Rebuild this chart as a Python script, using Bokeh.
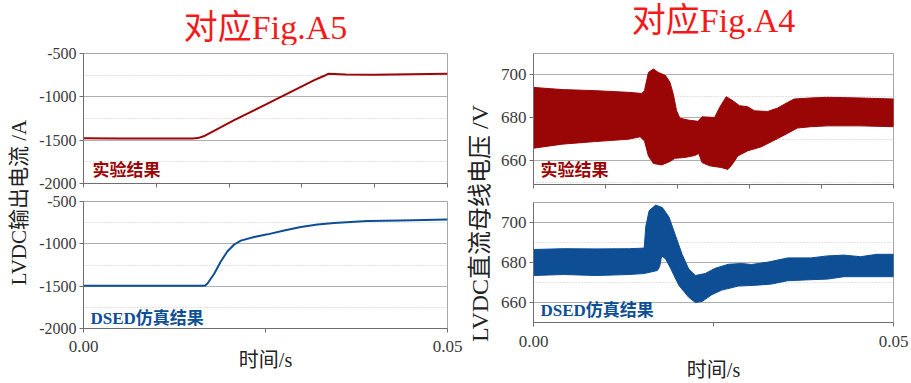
from bokeh.plotting import figure
from bokeh.models import Range1d, FixedTicker, Label
from bokeh.layouts import row, column
from bokeh.embed import file_html
from bokeh.resources import INLINE

# ---------------- data ----------------
# Left top: experimental LVDC output current (A)
t_exp_i = [0.0, 0.005, 0.010, 0.0150, 0.0157, 0.0165, 0.0207, 0.0250, 0.0276, 0.0300,
           0.0317, 0.0330, 0.0336, 0.0360, 0.0400, 0.0450, 0.0500]
i_exp = [-1478, -1480, -1481, -1480, -1476, -1455, -1269, -1090, -981, -880,
         -808, -760, -735, -742, -745, -738, -735]

# Left bottom: DSED simulated LVDC output current (A)
t_sim_i = [0.0, 0.0100, 0.01667, 0.01703, 0.01795, 0.01886, 0.01978, 0.0207, 0.02161,
           0.02344, 0.02527, 0.02756, 0.02985, 0.03214, 0.03443, 0.0390, 0.0436, 0.0500]
i_sim = [-1495, -1495, -1495, -1469, -1354, -1208, -1088, -1008, -962,
         -919, -888, -842, -800, -773, -754, -731, -723, -712]

# Right top: experimental DC bus voltage envelope (V)
t_exp_up = [0.0, 0.0040, 0.0086, 0.0132, 0.01504, 0.01541, 0.01596, 0.01665, 0.01734,
            0.01835, 0.01895, 0.01941, 0.01987, 0.02033, 0.02148, 0.02286, 0.02341,
            0.02516, 0.02585, 0.02677, 0.02769, 0.02861, 0.02976, 0.03068, 0.03252,
            0.0339, 0.03528, 0.0362, 0.0385, 0.0408, 0.0454, 0.0500]
v_exp_up = [694.2, 693.2, 692.7, 691.9, 691.4, 692.7, 701.2, 702.8, 701.2,
            699.7, 696.6, 691.1, 683.4, 679.9, 679.0, 678.4, 680.5,
            680.2, 684.9, 689.9, 688.0, 685.7, 685.2, 683.3, 683.0,
            684.6, 687.2, 688.8, 689.3, 689.6, 689.3, 688.8]
t_exp_lo = [0.0, 0.0040, 0.0086, 0.0132, 0.01481, 0.01541, 0.01596, 0.01665, 0.0178,
            0.01895, 0.01964, 0.02102, 0.0224, 0.02295, 0.02341, 0.02447, 0.02608,
            0.0270, 0.02746, 0.02838, 0.02976, 0.0316, 0.03344, 0.03528, 0.03666,
            0.0385, 0.0408, 0.0454, 0.0500]
v_exp_lo = [665.9, 667.8, 669.0, 670.1, 671.2, 669.3, 662.3, 658.8, 658.1,
            659.7, 661.2, 661.6, 662.5, 663.4, 659.2, 657.7, 656.9,
            656.0, 657.7, 662.3, 664.7, 666.5, 669.6, 672.8, 675.3,
            675.9, 676.3, 676.3, 675.9]

# Right bottom: DSED simulated DC bus voltage envelope (V)
t_sim_up = [0.0, 0.00413, 0.00872, 0.0133, 0.01537, 0.0156, 0.01606, 0.01697, 0.01789,
            0.01881, 0.01972, 0.02064, 0.02156, 0.02248, 0.02385, 0.02523, 0.02706,
            0.0289, 0.03028, 0.03257, 0.03532, 0.03853, 0.04083, 0.04312, 0.04541,
            0.04771, 0.0500]
v_sim_up = [686.5, 686.9, 686.8, 686.9, 687.2, 698.1, 705.9, 708.7, 707.5,
            702.8, 693.5, 684.1, 676.7, 673.5, 674.5, 677.1, 679.1,
            679.5, 679.0, 680.2, 682.3, 682.3, 683.3, 683.7, 682.9,
            684.1, 684.1]
t_sim_lo = [0.0, 0.00413, 0.00872, 0.0133, 0.01537, 0.0172, 0.01752, 0.0178, 0.01835,
            0.01904, 0.02018, 0.02156, 0.02248, 0.0234, 0.02477, 0.02615, 0.02844,
            0.03073, 0.03303, 0.03532, 0.03853, 0.04083, 0.04312, 0.04541, 0.0500]
v_sim_lo = [673.5, 674.0, 673.5, 674.0, 674.5, 676.0, 677.9, 683.3, 681.8,
            677.1, 668.6, 662.6, 660.0, 660.5, 663.9, 666.2, 668.2,
            668.6, 669.2, 670.9, 671.4, 671.7, 672.9, 672.9, 672.9]

i_major = [-2000, -1500, -1000, -500]
i_minor = [-1750, -1250, -750]
i_tick_labels = {-2000: "-2000", -1500: "-1500", -1000: "-1000", -500: "-500"}
v_major = [660, 680, 700]
v_minor = [650, 670, 690]
x_ticks_top = [0.0, 0.01, 0.02, 0.03, 0.04, 0.05]
x_ticks_bottom = [0.0, 0.05]
x_ticks_bottom_mid = [0.025]
x_tick_labels = {0: "0.00", 0.05: "0.05"}

titles = ["对应Fig.A5", "对应Fig.A4"]
ylabels = ["LVDC输出电流 /A", "LVDC直流母线电压 /V"]
xlabel = "时间/s"
tag_exp = "实验结果"
tag_sim = "DSED仿真结果"

# ---------------- style ----------------
RED = "#9A0606"
BLUE = "#0D4E95"
TITLE_RED = "#F21A1A"
SERIF = "Liberation Serif"
MIXED = "'Liberation Serif', 'Noto Sans CJK SC'"


def base_fig(width, height, ylo, yhi, mb):
    p = figure(width=width, height=height, output_backend="svg", toolbar_location=None,
               x_range=Range1d(0, 0.05), y_range=Range1d(ylo, yhi),
               min_border_left=mb[0], min_border_right=mb[1],
               min_border_top=mb[2], min_border_bottom=mb[3])
    p.background_fill_color = "white"
    p.border_fill_color = "white"
    p.outline_line_color = "#A8A8A8"
    p.outline_line_width = 1
    for ax in (p.xaxis[0], p.yaxis[0]):
        ax.axis_line_color = "#6E6E6E"
        ax.major_tick_line_color = "#6E6E6E"
        ax.minor_tick_line_color = "#6E6E6E"
        ax.major_tick_out = 4
        ax.major_tick_in = 0
        ax.minor_tick_out = 0
        ax.minor_tick_in = 0
        ax.major_label_text_font = SERIF
        ax.major_label_text_font_size = "17px"
        ax.major_label_text_color = "#3A3A3A"
    p.yaxis[0].major_label_standoff = 3
    p.xgrid.grid_line_color = None
    p.ygrid.grid_line_color = "#AFAFAF"
    p.ygrid.grid_line_width = 1
    p.ygrid.minor_grid_line_color = "#C4C4C4"
    p.ygrid.minor_grid_line_dash = "1 2"
    return p


def hide_x_labels(p):
    p.xaxis[0].major_label_text_font_size = "0px"
    p.xaxis[0].major_label_text_color = None
    p.xaxis[0].major_label_standoff = 0


def bottom_x(p, label_standoff, tick_standoff):
    ax = p.xaxis[0]
    ax.ticker = FixedTicker(ticks=x_ticks_bottom, minor_ticks=x_ticks_bottom_mid)
    ax.minor_tick_out = 4
    ax.major_label_overrides = x_tick_labels
    ax.major_label_standoff = tick_standoff
    ax.axis_label = xlabel
    ax.axis_label_text_font = MIXED
    ax.axis_label_text_font_size = "20px"
    ax.axis_label_text_font_style = "normal"
    ax.axis_label_text_color = "#222222"
    ax.axis_label_standoff = label_standoff


def add_tag(p, text, color, x, y):
    p.add_layout(Label(x=x, y=y, x_units="screen", y_units="screen", text=text,
                       text_color=color, text_font=MIXED, text_font_style="bold",
                       text_font_size="17px", text_baseline="middle", text_align="left"))


def blank_fig(width, height, mb=(0, 0)):
    p = figure(width=width, height=height, output_backend="svg", toolbar_location=None,
               x_axis_location=None, y_axis_location=None,
               min_border_left=mb[0], min_border_right=mb[1],
               min_border_top=0, min_border_bottom=0,
               x_range=Range1d(0, 0.05), y_range=Range1d(0, 1))
    p.grid.visible = False
    p.outline_line_color = None
    p.background_fill_color = "white"
    p.border_fill_color = "white"
    p.scatter(x=[0.025], y=[0.5], size=0, alpha=0)
    return p


def title_fig(width, height, text, mb, y):
    p = blank_fig(width, height, mb)
    p.add_layout(Label(x=0.025, y=y, x_units="data", y_units="screen", text=text,
                       text_color=TITLE_RED, text_font=MIXED, text_font_size="34px",
                       text_baseline="middle", text_align="center"))
    return p


def ylabel_fig(width, text, x, y, size):
    p = blank_fig(width, 383)
    p.add_layout(Label(x=x, y=y, x_units="screen", y_units="screen", text=text,
                       angle=90, angle_units="deg", text_color="#222222",
                       text_font=MIXED, text_font_size=size,
                       text_baseline="middle", text_align="center"))
    return p


TH = 45   # title strip height
# ---------------- left column ----------------
LW = 433  # left panels span x 32..465
tt_left = title_fig(LW, TH, titles[0], (51, 18), 18)

tl = base_fig(LW, 192 - TH, -2000, -500, (51, 18, 53 - TH, 9))
tl.yaxis.ticker = FixedTicker(ticks=i_major, minor_ticks=i_minor)
tl.yaxis.major_label_overrides = i_tick_labels
tl.yaxis.major_label_text_font_size = "16px"
tl.xaxis.ticker = FixedTicker(ticks=x_ticks_top)
hide_x_labels(tl)
tl.line(t_exp_i, i_exp, line_color=RED, line_width=2)
add_tag(tl, tag_exp, RED, 9, 13)

bl = base_fig(LW, 191, -2000, -500, (51, 18, 9, 55))
bl.yaxis.ticker = FixedTicker(ticks=i_major, minor_ticks=i_minor)
bl.yaxis.major_label_overrides = i_tick_labels
bl.yaxis.major_label_text_font_size = "16px"
bottom_x(bl, -6, 8)
bl.line(t_sim_i, i_sim, line_color=BLUE, line_width=2)
add_tag(bl, tag_sim, BLUE, 7, 10)

# ---------------- right column ----------------
RW = 414  # right panels span x 497..911
tt_right = title_fig(RW, TH, titles[1], (34, 18), 25)

tr = base_fig(RW, 192 - TH, 649, 710, (34, 18, 53 - TH, 8))
tr.yaxis.ticker = FixedTicker(ticks=v_major, minor_ticks=v_minor)
tr.xaxis.ticker = FixedTicker(ticks=x_ticks_top)
hide_x_labels(tr)
tr.patch(t_exp_up + t_exp_lo[::-1], v_exp_up + v_exp_lo[::-1],
         fill_color=RED, line_color=RED, line_width=1)
add_tag(tr, tag_exp, RED, 7, 14)

br = base_fig(RW, 191, 650, 710, (34, 18, 10, 53))
br.yaxis.ticker = FixedTicker(ticks=v_major, minor_ticks=v_minor)
bottom_x(br, 9, 9)
br.patch(t_sim_up + t_sim_lo[::-1], v_sim_up + v_sim_lo[::-1],
         fill_color=BLUE, line_color=BLUE, line_width=1)
add_tag(br, tag_sim, BLUE, 7, 12)

yl_left = ylabel_fig(32, ylabels[0], 18, 181, "21px")
yl_right = ylabel_fig(32, ylabels[1], 14, 160, "24px")

layout = row(yl_left, column(tt_left, tl, bl), yl_right, column(tt_right, tr, br))

open("out.html", "w").write(file_html(layout, INLINE))
